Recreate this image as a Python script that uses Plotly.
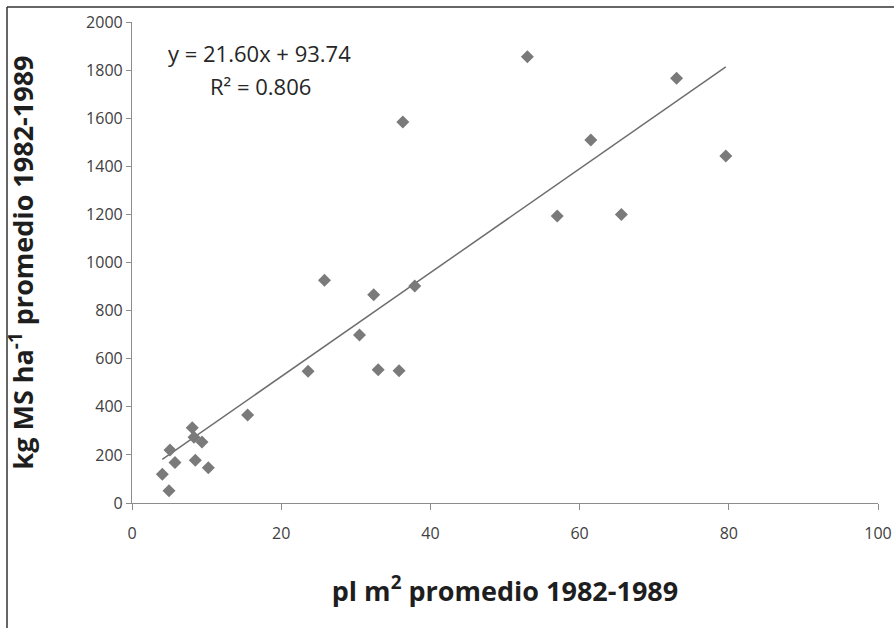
import plotly.graph_objects as go

# Data
plants = [4.06, 4.96, 5.09, 5.76, 8.08, 8.31, 9.38, 8.49, 10.23, 15.5,
          25.8, 32.4, 37.9, 30.5, 23.6, 33.0, 35.8,
          53.0, 36.3, 61.5, 57.0, 73.0, 79.6, 65.6]
yield_ms = [120, 51, 220, 168, 313, 273, 254, 178, 147, 366,
            926, 866, 902, 699, 548, 554, 550,
            1856, 1584, 1509, 1193, 1766, 1443, 1200]
slope = 21.60
intercept = 93.74
r2 = 0.806
x_ticks = [0, 20, 40, 60, 80, 100]
y_ticks = list(range(0, 2001, 200))

x_line = [min(plants), max(plants)]
y_line = [slope * v + intercept for v in x_line]

fig = go.Figure()
fig.add_trace(go.Scatter(x=x_line, y=y_line, mode="lines",
                         line=dict(color="#6e6e6e", width=1.5),
                         hoverinfo="skip", showlegend=False))
fig.add_trace(go.Scatter(x=plants, y=yield_ms, mode="markers",
                         marker=dict(symbol="diamond", size=10, color="#7a7a7a"),
                         showlegend=False))

font_fam = "Open Sans, Liberation Sans, sans-serif"
L, T, PW, PH = 132, 22, 746, 481
fig.update_layout(
    width=894, height=628,
    margin=dict(l=L, r=894 - L - PW, t=T, b=628 - T - PH),
    paper_bgcolor="white", plot_bgcolor="white",
    font=dict(family=font_fam, color="#333333"),
    xaxis=dict(range=[0, 100], tickvals=x_ticks, showgrid=False, zeroline=False,
               showline=True, linecolor="#8c8c8c", linewidth=1.2,
               ticks="outside", ticklen=6, tickcolor="#8c8c8c", automargin=False,
               ticklabelstandoff=10,
               tickfont=dict(size=16, color="#404040"),
               title=dict(text="<b>pl m<sup>2</sup> promedio 1982-1989</b>",
                          font=dict(size=27, color="#1e1e1e"), standoff=38)),
    yaxis=dict(range=[0, 2000], tickvals=y_ticks, showgrid=False, zeroline=False,
               showline=True, linecolor="#8c8c8c", linewidth=1.2,
               ticks="outside", ticklen=5, tickcolor="#8c8c8c", automargin=False,
               tickfont=dict(size=16, color="#404040"),
               title=dict(text="<b>kg MS ha<sup>-1</sup> promedio 1982-1989</b>",
                          font=dict(size=27, color="#1e1e1e"), standoff=44)),
    annotations=[
        dict(x=(259 - L) / PW, y=(T + PH - 53) / PH, xref="paper", yref="paper",
             xanchor="center", yanchor="middle",
             text=f"y = {slope:.2f}x + {intercept:.2f}", showarrow=False,
             font=dict(size=22, color="#262626", family=font_fam)),
        dict(x=(260 - L) / PW, y=(T + PH - 86) / PH, xref="paper", yref="paper",
             xanchor="center", yanchor="middle",
             text=f"R² = {r2:.3f}", showarrow=False,
             font=dict(size=22, color="#262626", family=font_fam)),
    ],
    shapes=[
        dict(type="line", xref="paper", yref="paper",
             x0=(7 - L) / PW, x1=(900 - L) / PW,
             y0=(T + PH - 7) / PH, y1=(T + PH - 7) / PH,
             line=dict(color="#333333", width=1.5)),
        dict(type="line", xref="paper", yref="paper",
             x0=(7 - L) / PW, x1=(7 - L) / PW,
             y0=(T + PH - 7) / PH, y1=(T + PH - 640) / PH,
             line=dict(color="#333333", width=1.5)),
    ],
)

fig.write_html("out.html", config={"displayModeBar": False},
               post_script="document.body.style.margin='0px';")
